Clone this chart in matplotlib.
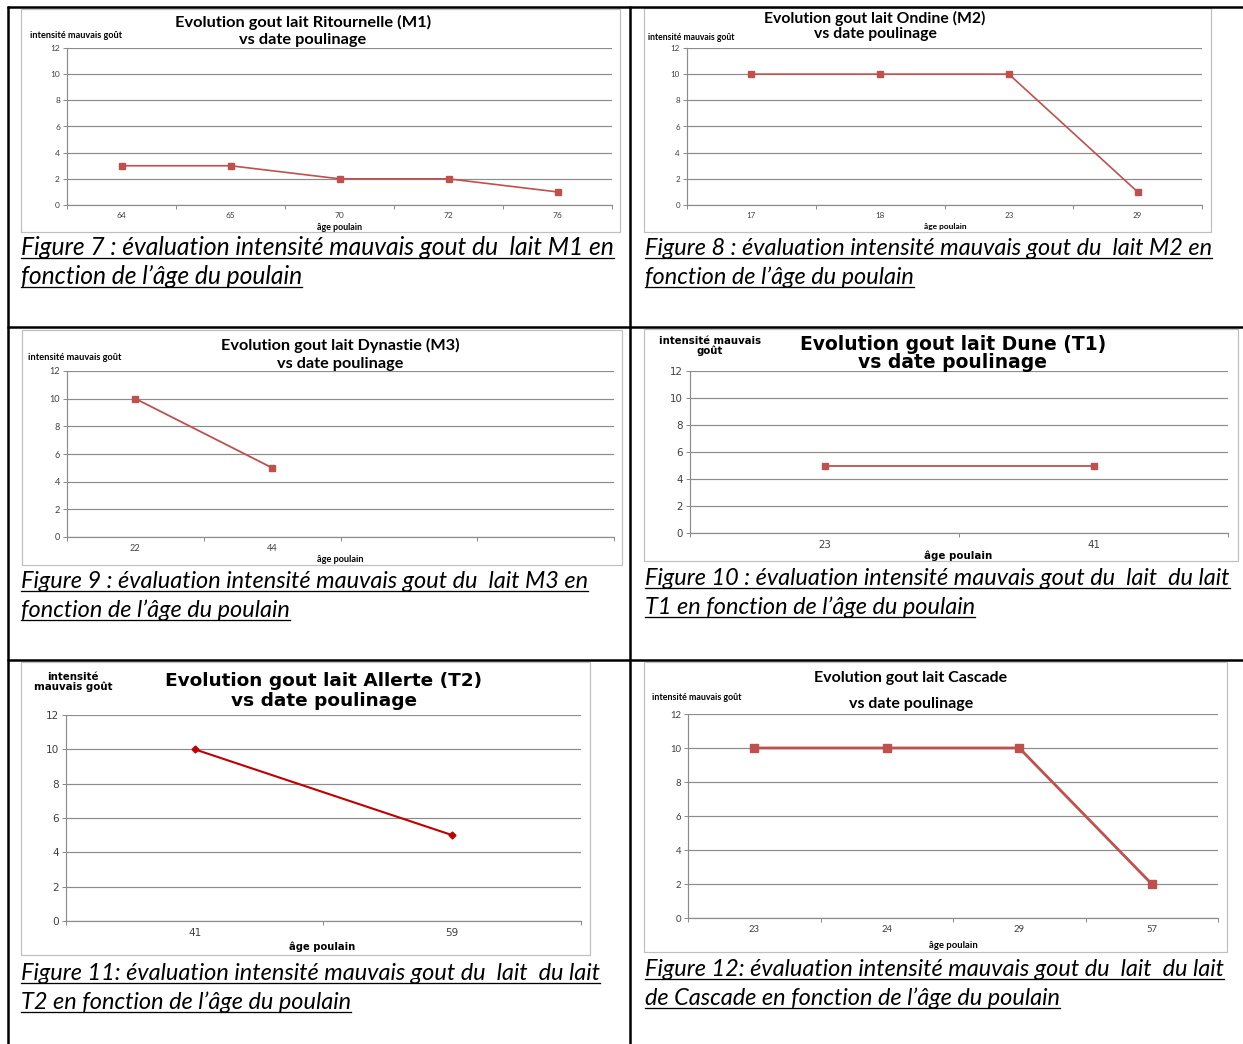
" Taste evolution charts for the six mares, laid out in a 3x2 table "

# imports
import matplotlib
matplotlib.use("Agg")
import matplotlib.pyplot as plt
from matplotlib.lines import Line2D
from matplotlib.patches import Rectangle

W, H = 1243, 1044

# data: foal age (days) per sample and off-taste intensity
m1_ages = ["64", "65", "70", "72", "76"]
m1_vals = [3, 3, 2, 2, 1]
m2_ages = ["17", "18", "23", "29"]
m2_vals = [10, 10, 10, 1]
m3_ages = ["22", "44", "", ""]
m3_vals = [10, 5]
t1_ages = ["23", "41"]
t1_vals = [5, 5]
t2_ages = ["41", "59"]
t2_vals = [10, 5]
cascade_ages = ["23", "24", "29", "57"]
cascade_vals = [10, 10, 10, 2]

titles = [
    ("Evolution gout lait Ritournelle (M1)", "vs date poulinage"),
    ("Evolution gout lait Ondine (M2)", "vs date poulinage"),
    ("Evolution gout lait Dynastie (M3)", "vs date poulinage"),
    ("Evolution gout lait Dune (T1)", "vs date poulinage"),
    ("Evolution gout lait Allerte (T2)", "vs date poulinage"),
    ("Evolution gout lait Cascade", "vs date poulinage"),
]
captions = [
    ("Figure 7 : évaluation intensité mauvais gout du  lait M1 en",
     "fonction de l’âge du poulain"),
    ("Figure 8 : évaluation intensité mauvais gout du  lait M2 en",
     "fonction de l’âge du poulain"),
    ("Figure 9 : évaluation intensité mauvais gout du  lait M3 en",
     "fonction de l’âge du poulain"),
    ("Figure 10 : évaluation intensité mauvais gout du  lait  du lait",
     "T1 en fonction de l’âge du poulain"),
    ("Figure 11: évaluation intensité mauvais gout du  lait  du lait",
     "T2 en fonction de l’âge du poulain"),
    ("Figure 12: évaluation intensité mauvais gout du  lait  du lait",
     "de Cascade en fonction de l’âge du poulain"),
]
y_label = "intensité mauvais goût"
x_label = "âge poulain"

RED = "#C0504D"
DARK_RED = "#C00000"
GRID = "#8C8C8C"
BOX = "#BFBFBF"

CALIBRI = ["Lato", "DejaVu Sans"]
VERDANA = ["DejaVu Sans"]
NARROW = ["Liberation Sans Narrow", "Lato", "DejaVu Sans"]


def fx(x):
    return x / W


def fy(y):
    return 1 - y / H


def pts(px):
    return px * 72 / 100


charts = [
    dict(ages=m1_ages, vals=m1_vals, box=(21, 9, 620, 232), plot=(67, 48, 612, 205),
         title_xy=(303, 22, 40), title_fs=11.8, font=CALIBRI,
         ylab=(30, 36, "left"), ylab_fs=6.6, ylab_lines=[y_label],
         xlab=(340, 227), xlab_fs=6.4, tick_fs=6.0, color=RED, marker="s",
         ms=4.5, lw=1.2, caption_xy=(21, 255), caption_fs=17.75),
    dict(ages=m2_ages, vals=m2_vals, box=(644, 8, 1211, 232), plot=(687, 48, 1202, 205),
         title_xy=(875, 18, 34), title_fs=11.3, font=CALIBRI,
         ylab=(648, 37, "left"), ylab_fs=6.25, ylab_lines=[y_label],
         xlab=(945, 226), xlab_fs=6.0, tick_fs=5.8, color=RED, marker="s",
         ms=4.5, lw=1.2, caption_xy=(645, 255), caption_fs=16.9),
    dict(ages=m3_ages, vals=m3_vals, box=(22, 330, 622, 565), plot=(67, 371, 614, 537),
         title_xy=(340, 345, 364), title_fs=11.7, font=CALIBRI,
         ylab=(28, 357, "left"), ylab_fs=6.7, ylab_lines=[y_label],
         xlab=(340, 559), xlab_fs=6.6, tick_fs=6.6, color=RED, marker="s",
         ms=5, lw=1.3, caption_xy=(21, 588), caption_fs=16.95),
    dict(ages=t1_ages, vals=t1_vals, box=(644, 329, 1238, 561), plot=(690, 371, 1228, 533),
         title_xy=(953, 345, 363), title_fs=13.5, font=VERDANA,
         ylab=(710, 346, "center"), ylab_fs=7.3, ylab_lines=["intensité mauvais", "goût"],
         xlab=(958, 556), xlab_fs=7.4, tick_fs=7.4, color=RED, marker="s",
         ms=5, lw=1.3, caption_xy=(645, 585), caption_fs=16.9),
    dict(ages=t2_ages, vals=t2_vals, box=(21, 662, 590, 955), plot=(66, 715, 581, 921),
         title_xy=(324, 681, 701), title_fs=13.3, font=VERDANA,
         ylab=(73, 682, "center"), ylab_fs=7.4, ylab_lines=["intensité", "mauvais goût"],
         xlab=(322, 947), xlab_fs=7.2, tick_fs=7.6, color=DARK_RED, marker="D",
         ms=3.5, lw=1.5, caption_xy=(21, 980), caption_fs=16.9),
    dict(ages=cascade_ages, vals=cascade_vals, box=(644, 662, 1227, 952),
         plot=(688, 714, 1218, 918),
         title_xy=(911, 678, 704), title_fs=11.5, font=NARROW,
         ylab=(652, 697, "left"), ylab_fs=6.4, ylab_lines=[y_label],
         xlab=(953, 945), xlab_fs=6.8, tick_fs=6.8, color=RED, marker="s",
         ms=6, lw=2.0, caption_xy=(645, 976), caption_fs=16.9),
]

fig = plt.figure(figsize=(W / 100, H / 100), dpi=100)
fig.patch.set_facecolor("white")

# table grid lines
table_kw = dict(color="black", lw=pts(2.5), solid_capstyle="butt")
for x0, y0, x1, y1 in [(7, 7, 1243, 7), (7, 327, 1243, 327), (7, 660, 1243, 660),
                       (8, 6, 8, 1044), (630, 6, 630, 1044)]:
    fig.add_artist(Line2D([fx(x0), fx(x1)], [fy(y0), fy(y1)], **table_kw))

caption_texts = []
for i, c in enumerate(charts):
    bx0, by0, bx1, by1 = c["box"]
    fig.add_artist(Rectangle((fx(bx0), fy(by1)), fx(bx1 - bx0), (by1 - by0) / H,
                             fill=False, ec=BOX, lw=pts(1.2)))

    px0, py0, px1, py1 = c["plot"]
    ax = fig.add_axes([fx(px0), fy(py1), fx(px1 - px0), (py1 - py0) / H])
    ax.set_facecolor("none")
    n = len(c["ages"])
    xs = list(range(len(c["vals"])))
    ax.plot(xs, c["vals"], color=c["color"], lw=c["lw"], marker=c["marker"],
            ms=c["ms"], mec=c["color"], mfc=c["color"], zorder=3, clip_on=False)
    ax.set_xlim(-0.5, n - 0.5)
    ax.set_ylim(0, 12)
    ax.set_yticks(range(0, 13, 2))
    ax.set_xticks(range(n))
    ax.set_xticklabels(c["ages"])
    ax.set_xticks([k - 0.5 for k in range(n + 1)], minor=True)
    ax.tick_params(axis="x", which="major", length=0, pad=pts(7),
                   labelsize=c["tick_fs"], labelcolor="#404040")
    ax.tick_params(axis="x", which="minor", length=pts(4), width=pts(1), color=GRID)
    ax.tick_params(axis="y", length=pts(4), width=pts(1), color=GRID, pad=pts(3),
                   labelsize=c["tick_fs"], labelcolor="#404040")
    for lab in ax.get_xticklabels() + ax.get_yticklabels():
        lab.set_family(c["font"])
    ax.grid(axis="y", color=GRID, lw=pts(1.2))
    ax.set_axisbelow(True)
    for side in ["top", "right"]:
        ax.spines[side].set_visible(False)
    for side in ["left", "bottom"]:
        ax.spines[side].set_color(GRID)
        ax.spines[side].set_linewidth(pts(1.2))

    # chart title, axis titles
    tx, ty1, ty2 = c["title_xy"]
    for line, ty in zip(titles[i], (ty1, ty2)):
        fig.text(fx(tx), fy(ty), line, ha="center", va="center",
                 fontsize=c["title_fs"], fontweight="bold", family=c["font"])
    lx, ly, lha = c["ylab"]
    fig.text(fx(lx), fy(ly), "\n".join(c["ylab_lines"]), ha=lha, va="center",
             fontsize=c["ylab_fs"], fontweight="bold", family=c["font"],
             linespacing=1.0, multialignment="center")
    fig.text(fx(c["xlab"][0]), fy(c["xlab"][1]), x_label, ha="center", va="center",
             fontsize=c["xlab_fs"], fontweight="bold", family=c["font"])

    # figure caption, two underlined lines
    cx, cy = c["caption_xy"]
    for k, line in enumerate(captions[i]):
        t = fig.text(fx(cx), fy(cy + 29 * k), line, ha="left", va="baseline",
                     fontsize=c["caption_fs"], fontstyle="italic", family=CALIBRI)
        caption_texts.append((t, cy + 29 * k))

fig.canvas.draw()
renderer = fig.canvas.get_renderer()
for t, base in caption_texts:
    bb = t.get_window_extent(renderer)
    fig.add_artist(Line2D([bb.x0 / W, bb.x1 / W], [fy(base + 3), fy(base + 3)],
                          color="black", lw=pts(1.3)))

fig.savefig("out.png", dpi=100, facecolor="white")
plt.close(fig)
